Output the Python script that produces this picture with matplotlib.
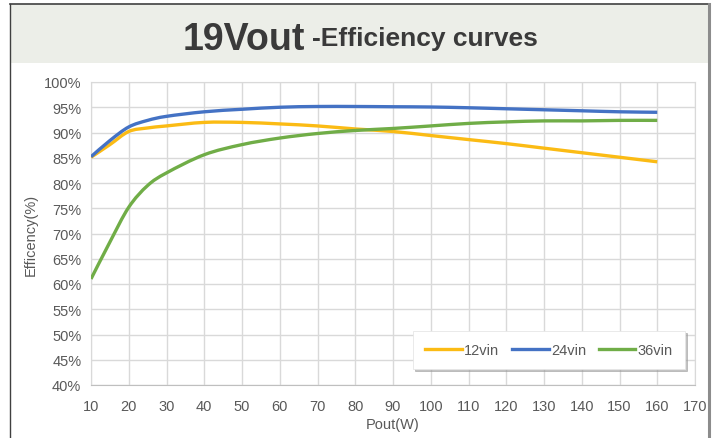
import numpy as np
import matplotlib
matplotlib.use("Agg")
import matplotlib.pyplot as plt
from matplotlib.path import Path
from matplotlib.patches import PathPatch, Rectangle
from matplotlib.lines import Line2D

plt.rcParams['font.family'] = ['Liberation Sans', 'DejaVu Sans']

# Data
pout = [10, 15, 20, 25, 30, 40, 50, 60, 70, 80, 90, 100, 110, 120, 130, 140, 150, 160]
eff_12vin = [85.1, 87.6, 90.2, 90.9, 91.3, 92.0, 92.0, 91.7, 91.3, 90.7, 90.2, 89.4,
             88.6, 87.8, 86.9, 86.0, 85.1, 84.2]
eff_24vin = [85.2, 88.4, 91.1, 92.4, 93.2, 94.1, 94.6, 95.0, 95.15, 95.15, 95.1, 95.05,
             94.9, 94.7, 94.5, 94.3, 94.1, 94.0]
eff_36vin = [61.0, 68.3, 75.2, 79.5, 82.0, 85.6, 87.6, 88.9, 89.8, 90.4, 90.8, 91.3,
             91.8, 92.1, 92.3, 92.3, 92.4, 92.4]
series_names = ['12vin', '24vin', '36vin']
series_colors = ['#FBBB14', '#4472C4', '#70AD47']
x_ticks = list(range(10, 171, 10))
y_ticks = list(range(40, 101, 5))


# Excel-like smoothed line (Catmull-Rom through the points)
def smooth_path(xs, ys):
    pts = np.column_stack([xs, ys]).astype(float)
    n = len(pts)
    verts = [pts[0]]
    codes = [Path.MOVETO]
    for i in range(n - 1):
        p0 = pts[max(i - 1, 0)]
        p1 = pts[i]
        p2 = pts[i + 1]
        p3 = pts[min(i + 2, n - 1)]
        verts += [p1 + (p2 - p0) / 6, p2 - (p3 - p1) / 6, p2]
        codes += [Path.CURVE4] * 3
    return Path(verts, codes)


fig = plt.figure(figsize=(7.12, 4.39), dpi=100)
fig.patch.set_facecolor('white')

# header band and frame
W, H = 712, 439
fig.patches.append(Rectangle((10 / W, 1 - 64 / H), 699 / W, 59 / H, transform=fig.transFigure,
                             facecolor='#ECEEE8', edgecolor='none', zorder=0))
fig.add_artist(Line2D([10 / W, 708 / W], [1 - 5 / H, 1 - 5 / H], color='#404040', lw=1.2))
fig.add_artist(Line2D([10 / W, 10 / W], [0, 1 - 5 / H], color='#404040', lw=1.0))
fig.add_artist(Line2D([708.5 / W, 708.5 / W], [0, 1 - 5 / H], color='#8C8C8C', lw=2.2))

fig.text(305 / W, 1 - 50 / H, '19Vout', ha='right', va='baseline', fontsize=27,
         fontweight='bold', color='#3A3A3A')
fig.text(312 / W, 1 - 46 / H, '-Efficiency curves', ha='left', va='baseline', fontsize=19,
         fontweight='bold', color='#3A3A3A')

ax = fig.add_axes([91 / W, 1 - 386 / H, 604 / W, 303 / H])
for xs_y, col in zip([eff_12vin, eff_24vin, eff_36vin], series_colors):
    ax.add_patch(PathPatch(smooth_path(pout, xs_y), facecolor='none', edgecolor=col,
                           lw=2.4, capstyle='butt', zorder=3))

ax.set_xlim(10, 170)
ax.set_ylim(40, 100)
ax.set_xticks(x_ticks)
ax.set_yticks(y_ticks)
ax.set_yticklabels([f'{v}%' for v in y_ticks])
ax.grid(True, color='#D9D9D9', lw=1.0)
ax.set_axisbelow(True)
for side in ['top', 'right']:
    ax.spines[side].set_color('#D9D9D9')
ax.spines['left'].set_color('#D9D9D9')
ax.spines['bottom'].set_color('#BFBFBF')
ax.tick_params(length=0, labelsize=10.5, labelcolor='#595959')
ax.tick_params(axis='x', pad=10)
ax.tick_params(axis='y', pad=7)
ax.set_xlabel('Pout(W)', fontsize=10.5, color='#595959', labelpad=3)
ax.set_ylabel('Efficency(%)', fontsize=10.5, color='#595959', labelpad=4)

handles = [Line2D([], [], color=c, lw=2.4) for c in series_colors]
leg = ax.legend(handles, series_names, ncol=3, loc='center',
                bbox_to_anchor=(549 / W, 1 - 351 / H), bbox_transform=fig.transFigure,
                fontsize=10.5, handlelength=2.5, handletextpad=0.15, columnspacing=0.9,
                frameon=True, fancybox=False, borderpad=0.85,
                shadow={'color': '#9A9A9A', 'alpha': 0.6, 'ox': 1.5, 'oy': -1.5})
leg.get_frame().set_edgecolor('#E6E6E6')
leg.get_frame().set_linewidth(0.6)
for t in leg.get_texts():
    t.set_color('#595959')

fig.savefig('out.png', dpi=100)
